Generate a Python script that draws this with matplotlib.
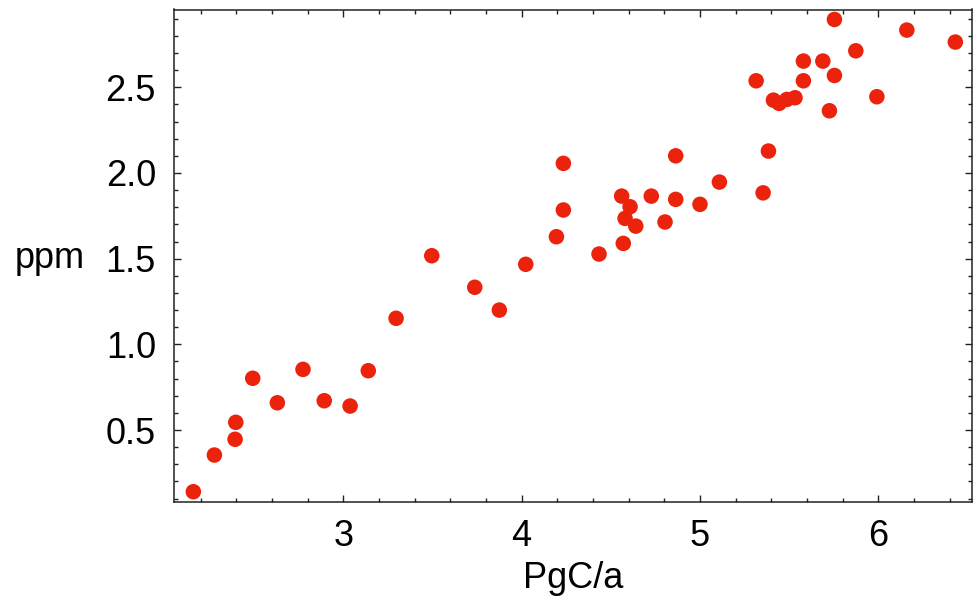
import matplotlib
matplotlib.use("Agg")
import matplotlib.pyplot as plt
from matplotlib.ticker import MultipleLocator, FixedLocator

emissions = [2.159, 2.277, 2.393, 2.397, 2.492, 2.630, 2.774, 2.893, 3.038, 3.140,
             3.296, 3.496, 3.737, 3.875, 4.023, 4.195, 4.234, 4.234, 4.434, 4.570,
             4.561, 4.608, 4.580, 4.640, 4.727, 4.804, 4.864, 4.864, 5.000, 5.109,
             5.354, 5.384, 5.315, 5.412, 5.444, 5.487, 5.533, 5.580, 5.580, 5.689,
             5.754, 5.726, 5.754, 5.874, 5.992, 6.160, 6.432]
ppm_rise = [0.140, 0.354, 0.446, 0.545, 0.802, 0.659, 0.854, 0.671, 0.640, 0.846,
            1.152, 1.517, 1.333, 1.200, 1.467, 1.628, 1.784, 2.056, 1.527, 1.589,
            1.865, 1.803, 1.735, 1.690, 1.865, 1.714, 1.846, 2.100, 1.817, 1.947,
            1.884, 2.128, 2.538, 2.425, 2.406, 2.429, 2.439, 2.538, 2.653, 2.653,
            2.569, 2.363, 2.896, 2.713, 2.445, 2.834, 2.764]

x_ticks = [3, 4, 5, 6]
y_ticks = [0.5, 1.0, 1.5, 2.0, 2.5]
y_tick_labels = ["0.5", "1.0", "1.5", "2.0", "2.5"]
x_label = "PgC/a"
y_label = "ppm"

plt.rcParams['font.family'] = ['Liberation Sans', 'DejaVu Sans']

fig = plt.figure(figsize=(9.77, 5.97), dpi=100)
ax = fig.add_axes([174/977, 1-502/597, (972-174)/977, (502-9.5)/597])

ax.scatter(emissions, ppm_rise, s=125, color='#EC230C', edgecolors='none', zorder=3)

ax.set_xlim(2.0505, 6.5255)
ax.set_ylim(0.08, 2.954)

ax.xaxis.set_major_locator(FixedLocator(x_ticks))
ax.yaxis.set_major_locator(FixedLocator(y_ticks))
ax.set_yticklabels(y_tick_labels)
ax.xaxis.set_minor_locator(MultipleLocator(0.2))
ax.yaxis.set_minor_locator(MultipleLocator(0.1))

ax.tick_params(which='both', direction='in', top=True, right=True,
               labeltop=False, labelright=False, color='#222222', width=1.0)
ax.tick_params(which='major', length=5, labelsize=26)
ax.tick_params(axis='x', which='major', pad=12)
ax.tick_params(axis='y', which='major', pad=13)
ax.tick_params(which='minor', length=3)

for sp in ax.spines.values():
    sp.set_linewidth(1.1)
    sp.set_color('#222222')

ax.set_xlabel(x_label, fontsize=26)
ax.xaxis.set_label_coords(0.5, (502-578)/492.5)
ax.xaxis.label.set_va('center')
ax.set_ylabel(y_label, fontsize=26, rotation=0, ha='center', va='center')
ax.yaxis.set_label_coords((50-174)/798, (502-258)/492.5)

fig.savefig('out.png', dpi=100)
